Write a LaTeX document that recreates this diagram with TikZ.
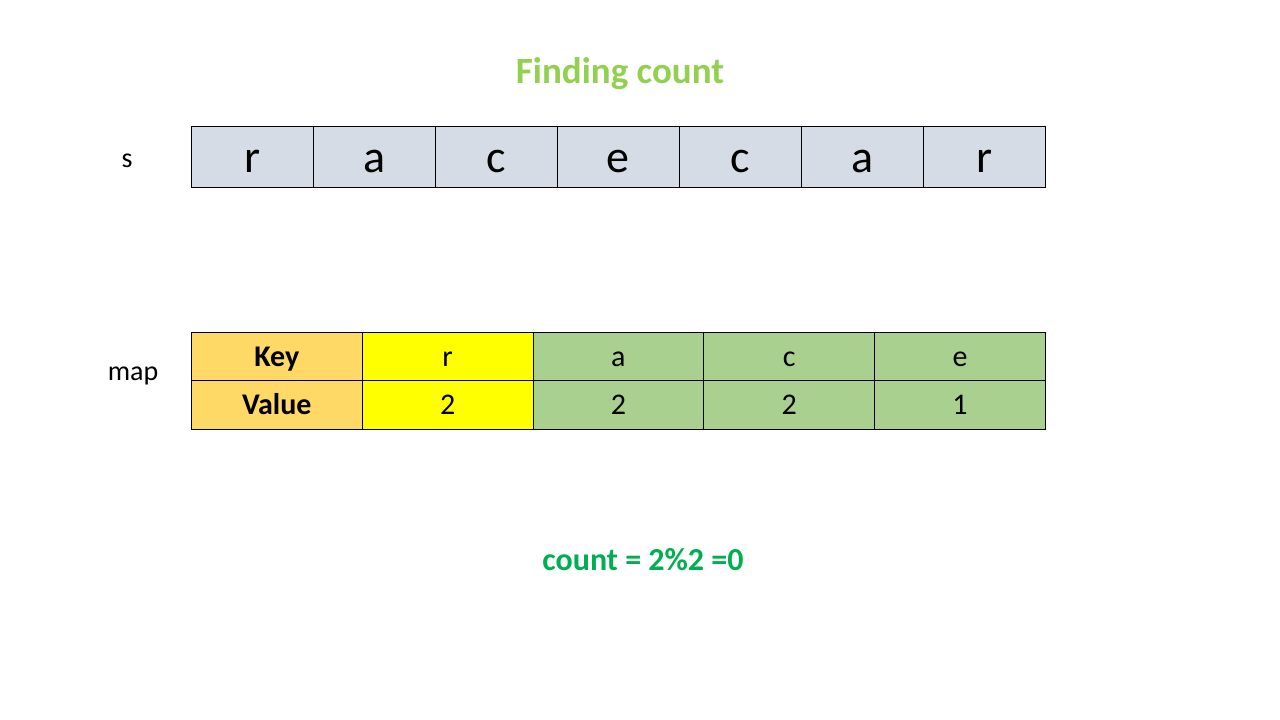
\documentclass[tikz,border=0pt]{standalone}
\usepackage{fontspec}
\setmainfont{Carlito}
\definecolor{arrfill}{HTML}{D6DCE5}
\definecolor{keyfill}{HTML}{FFD966}
\definecolor{yelfill}{HTML}{FFFF00}
\definecolor{grnfill}{HTML}{A9D08E}
\definecolor{titlegreen}{HTML}{92D050}
\definecolor{countgreen}{HTML}{00B050}
\tikzset{
  arrcell/.style={draw=black, line width=0.8pt, fill=arrfill, minimum width=122pt, minimum height=61pt, inner sep=0pt, text height=31pt, text depth=0pt, anchor=north west, font=\fontsize{46}{55}\selectfont},
  mapcell/.style={draw=black, line width=0.8pt, minimum width=170.8pt, minimum height=48.3pt, inner sep=0pt, text height=19pt, text depth=0pt, anchor=north west, font=\fontsize{30}{36}\selectfont},
  headcell/.style={mapcell, fill=keyfill, font=\fontsize{30}{36}\bfseries\selectfont},
  sidelabel/.style={font=\fontsize{28}{34}\selectfont, inner sep=0pt, anchor=base}
}
\begin{document}
\begin{tikzpicture}[x=1pt, y=-1pt]
\useasboundingbox (0,0) rectangle (1280,720);
\node[font=\fontsize{37}{44}\bfseries\selectfont, text=titlegreen, inner sep=0pt, anchor=base] (title) at (620,83) {Finding count};
\node[sidelabel] (slabel) at (127,167) {s};
\foreach \ch [count=\i from 0] in {r,a,c,e,c,a,r} {
  \node[arrcell] (s\i) at (191+122*\i,126) {\ch};
}
\node[sidelabel] (maplabel) at (133,380.5) {map};
\node[headcell] (k0) at (191,332) {Key};
\node[headcell] (v0) at (191,380.3) {Value};
\node[mapcell, fill=yelfill] (k1) at (361.8,332) {r};
\node[mapcell, fill=yelfill] (v1) at (361.8,380.3) {2};
\node[mapcell, fill=grnfill] (k2) at (532.6,332) {a};
\node[mapcell, fill=grnfill] (v2) at (532.6,380.3) {2};
\node[mapcell, fill=grnfill] (k3) at (703.4,332) {c};
\node[mapcell, fill=grnfill] (v3) at (703.4,380.3) {2};
\node[mapcell, fill=grnfill] (k4) at (874.2,332) {e};
\node[mapcell, fill=grnfill] (v4) at (874.2,380.3) {1};
\node[font=\fontsize{32}{38}\bfseries\selectfont, text=countgreen, inner sep=0pt, anchor=base] (count) at (643,570) {count = 2\%2 =0};
\end{tikzpicture}
\end{document}
